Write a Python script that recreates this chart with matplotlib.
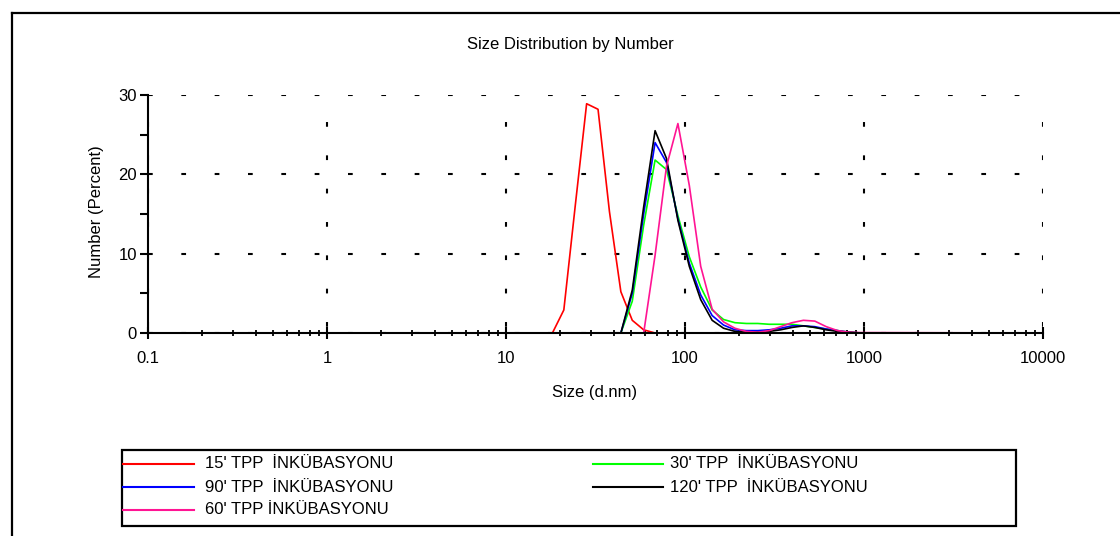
import matplotlib
matplotlib.use("Agg")
import matplotlib.pyplot as plt
from matplotlib.lines import Line2D
from matplotlib.patches import Rectangle
from matplotlib.ticker import LogLocator, NullFormatter

plt.rcParams['font.family'] = ['Liberation Sans', 'DejaVu Sans']
plt.rcParams['lines.scale_dashes'] = False

# --- data: size bins (d.nm) and number % per sample ---
size_nm = [0.4, 15.69, 18.17, 21.04, 24.36, 28.21, 32.67, 37.84, 43.82, 50.75,
           58.77, 68.06, 78.82, 91.28, 105.7, 122.4, 141.8, 164.2, 190.1, 220.2,
           255.0, 295.3, 342.0, 396.1, 458.7, 531.2, 615.1, 712.4, 825.0, 955.4,
           1106, 10000]

tpp15 = [0, 0, 0, 2.9, 16.0, 28.9, 28.2, 15.3, 5.2, 1.6,
         0.4, 0, 0, 0, 0, 0, 0, 0, 0, 0,
         0, 0, 0, 0, 0, 0, 0, 0, 0, 0,
         0, 0]
tpp30 = [0, 0, 0, 0, 0, 0, 0, 0, 0, 4.0,
         13.6, 21.8, 20.6, 14.8, 9.6, 5.8, 2.9, 1.7, 1.3, 1.2,
         1.2, 1.1, 1.1, 1.1, 0.9, 0.7, 0.5, 0.3, 0.1, 0,
         0, 0]
tpp90 = [0, 0, 0, 0, 0, 0, 0, 0, 0, 5.0,
         15.0, 24.0, 21.5, 14.4, 8.8, 4.8, 2.2, 1.0, 0.4, 0.3,
         0.3, 0.4, 0.6, 0.9, 0.9, 0.8, 0.5, 0.3, 0.1, 0,
         0, 0]
tpp120 = [0, 0, 0, 0, 0, 0, 0, 0, 0, 5.4,
          15.9, 25.5, 22.0, 14.2, 8.4, 4.2, 1.6, 0.6, 0.2, 0.1,
          0.1, 0.2, 0.4, 0.7, 0.9, 0.7, 0.4, 0.2, 0.1, 0,
          0, 0]
tpp60 = [0, 0, 0, 0, 0, 0, 0, 0, 0, 0,
         0, 9.8, 21.0, 26.4, 18.6, 8.4, 3.0, 1.4, 0.6, 0.2,
         0.1, 0.3, 0.8, 1.3, 1.6, 1.5, 0.8, 0.3, 0.1, 0.05,
         0.05, 0]

labels = ["15' TPP  İNKÜBASYONU", "30' TPP  İNKÜBASYONU", "90' TPP  İNKÜBASYONU",
          "120' TPP  İNKÜBASYONU", "60' TPP İNKÜBASYONU"]
colors = ['#ff0000', '#00ff00', '#0000ff', '#000000', '#ff1493']
series = [tpp15, tpp30, tpp90, tpp120, tpp60]

x_ticks = [0.1, 1, 10, 100, 1000, 10000]
x_ticklabels = ['0.1', '1', '10', '100', '1000', '10000']
y_ticks = [0, 10, 20, 30]

# --- figure ---
W, H = 1120, 536
fig = plt.figure(figsize=(W / 100, H / 100), dpi=100)


def fx(px):
    return px / W


def fy(py):
    return 1 - py / H


ax = fig.add_axes([fx(148), fy(333), fx(1043) - fx(148), fy(95) - fy(333)])

lines = {}
for lab, vals, col in zip(labels, series, colors):
    ln, = ax.plot(size_nm, vals, color=col, lw=1.2, clip_on=False)
    lines[lab] = ln

ax.set_xscale('log')
ax.set_xlim(0.1, 10000)
ax.set_ylim(0, 30)
ax.set_xticks(x_ticks)
ax.set_xticklabels(x_ticklabels)
ax.xaxis.set_minor_locator(LogLocator(base=10, subs=range(2, 10), numticks=20))
ax.xaxis.set_minor_formatter(NullFormatter())
ax.set_yticks(y_ticks)
ax.set_yticks([5, 15, 25], minor=True)

ax.spines['top'].set_visible(False)
ax.spines['right'].set_visible(False)
ax.spines['left'].set_linewidth(1.5)
ax.spines['bottom'].set_linewidth(1.5)

ax.tick_params(axis='x', which='major', direction='inout', length=8, width=1.5,
               pad=9, labelsize=12)
ax.tick_params(axis='x', which='minor', direction='inout', length=5, width=1.3)
ax.tick_params(axis='y', which='both', direction='out', length=6, width=1.5,
               pad=2, labelsize=12)

ax.xaxis.grid(True, which='major', color='black', lw=1.5, linestyle=(19.5, (3.4, 20.6)))
ax.yaxis.grid(True, which='major', color='black', lw=1.5, linestyle=(0, (3.4, 20.6)))

fig.text(fx(570), fy(44), 'Size Distribution by Number', ha='center', va='center', fontsize=12)
fig.text(fx(595), fy(393), 'Size (d.nm)', ha='center', va='center', fontsize=12)
fig.text(fx(97), fy(212), 'Number (Percent)', ha='center', va='center', rotation=90, fontsize=12)

# outer frame (top and left edges)
fig.add_artist(Line2D([fx(12), 1], [fy(13), fy(13)], color='black', lw=1.6))
fig.add_artist(Line2D([fx(12), fx(12)], [fy(13), 0], color='black', lw=1.6))

# legend box
fig.add_artist(Rectangle((fx(122), fy(526)), fx(1016) - fx(122), fy(450) - fy(526),
                         fill=False, edgecolor='black', lw=1.6))
legend_pos = [
    (labels[0], 123, 194, 205, 464),
    (labels[2], 123, 194, 205, 487),
    (labels[4], 123, 194, 205, 510),
    (labels[1], 593, 663, 670, 464),
    (labels[3], 593, 663, 670, 487),
]
for lab, x0, x1, xt, yy in legend_pos:
    fig.add_artist(Line2D([fx(x0), fx(x1)], [fy(yy), fy(yy)],
                          color=lines[lab].get_color(), lw=1.5))
    fig.text(fx(xt), fy(yy), lab, ha='left', va='center', fontsize=12)

fig.savefig('out.png', dpi=100)
